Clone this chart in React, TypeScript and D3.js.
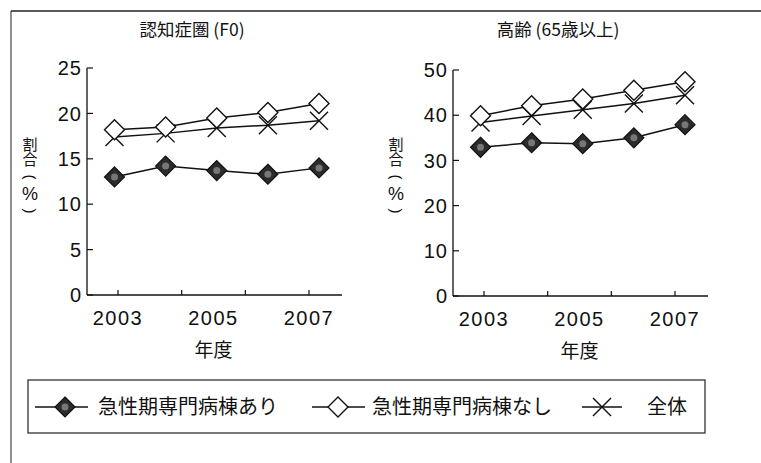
import React from "react";
import * as d3 from "d3";

const years = [2003, 2004, 2005, 2006, 2007];
const yearLabels = [2003, 2005, 2007];

const f0With = [13.0, 14.2, 13.7, 13.3, 14.0];
const f0Without = [18.2, 18.5, 19.5, 20.1, 21.1];
const f0All = [17.4, 17.8, 18.4, 18.7, 19.2];

const eldWith = [32.9, 33.9, 33.7, 35.0, 37.9];
const eldWithout = [39.9, 42.1, 43.6, 45.5, 47.4];
const eldAll = [38.4, 39.8, 41.2, 42.6, 44.4];

const f0Ticks = [0, 5, 10, 15, 20, 25];
const eldTicks = [0, 10, 20, 30, 40, 50];

const seriesNames = ["急性期専門病棟あり", "急性期専門病棟なし", "全体"];
const titles = ["認知症圏 (F0)", "高齢 (65歳以上)"];
const yLabelMain = "割合";
const yLabelUnit = ["(", "%", ")"];

const FONT = "'Liberation Sans', Arial, sans-serif";
const CJK = "'Noto Sans CJK JP', 'Noto Sans CJK SC', sans-serif";

type MarkerKind = "filled" | "open" | "x";

function Marker({ kind, x, y }: { kind: MarkerKind; x: number; y: number }) {
  const r = 10;
  if (kind === "x") {
    const s = 9;
    return (
      <g stroke="#111" strokeWidth={1.4}>
        <line x1={x - s} y1={y - s} x2={x + s} y2={y + s} />
        <line x1={x - s} y1={y + s} x2={x + s} y2={y - s} />
      </g>
    );
  }
  const pts = `${x},${y - r} ${x + r},${y} ${x},${y + r} ${x - r},${y}`;
  if (kind === "filled") {
    return (
      <g>
        <polygon points={pts} fill="#2b2b2b" stroke="#111" strokeWidth={1.2} />
        <circle cx={x} cy={y} r={3.5} fill="#777" />
      </g>
    );
  }
  return <polygon points={pts} fill="#fff" stroke="#111" strokeWidth={1.4} />;
}

function Panel({
  x0,
  yTop,
  yBottom,
  max,
  ticks,
  title,
  data,
}: {
  x0: number;
  yTop: number;
  yBottom: number;
  max: number;
  ticks: number[];
  title: string;
  data: number[][];
}) {
  const axisW = 255;
  const y = d3.scaleLinear().domain([0, max]).range([yBottom, yTop]);
  const xp = d3.scalePoint<number>().domain(years).range([x0 + 27.5, x0 + 232]);
  const xl = d3.scaleLinear().domain([2003, 2007]).range([x0 + 31, x0 + 222]);
  const xTicks = d3.range(4).map((i) => 2003 + (i * 4) / 3);
  const line = d3
    .line<number>()
    .x((_, i) => xp(years[i]) as number)
    .y((d) => y(d));
  const kinds: MarkerKind[] = ["filled", "open", "x"];
  const order = [2, 1, 0];
  const unitYs = [177, 194, 211];
  const lx = x0 - 57;
  return (
    <g>
      <text
        x={x0 + 105}
        y={36}
        textAnchor="middle"
        fontFamily={CJK}
        fontSize={17.5}
        fill="#111"
      >
        {title}
      </text>
      {/* y axis */}
      <line x1={x0} x2={x0} y1={yTop} y2={yBottom} stroke="#111" strokeWidth={1.3} />
      {ticks.map((t) => (
        <g key={t}>
          <line x1={x0} x2={x0 + 6} y1={y(t)} y2={y(t)} stroke="#111" strokeWidth={1.2} />
          <text
            x={x0 - 5}
            y={y(t)}
            dy="0.36em"
            textAnchor="end"
            fontFamily={FONT}
            fontSize={20}
            letterSpacing={1}
            fill="#111"
          >
            {t}
          </text>
        </g>
      ))}
      {/* x axis */}
      <line x1={x0} x2={x0 + axisW} y1={yBottom} y2={yBottom} stroke="#111" strokeWidth={1.3} />
      {xTicks.map((t, i) => (
        <line
          key={i}
          x1={xl(t)}
          x2={xl(t)}
          y1={yBottom}
          y2={yBottom - 5}
          stroke="#111"
          strokeWidth={1.2}
        />
      ))}
      {yearLabels.map((yr) => (
        <text
          key={yr}
          x={xl(yr)}
          y={yBottom + 23}
          dy="0.36em"
          textAnchor="middle"
          fontFamily={FONT}
          fontSize={20}
          letterSpacing={1.5}
          fill="#111"
        >
          {yr}
        </text>
      ))}
      <text
        x={xl(2005)}
        y={yBottom + 55}
        dy="0.36em"
        textAnchor="middle"
        fontFamily={CJK}
        fontSize={19}
        fill="#111"
      >
        年度
      </text>
      <text
        x={lx}
        y={152}
        textAnchor="middle"
        fontFamily={CJK}
        fontSize={15}
        fill="#111"
        style={{ writingMode: "vertical-rl" } as any}
      >
        {yLabelMain}
      </text>
      {yLabelUnit.map((c, i) => {
        const isParen = c !== "%";
        return (
          <text
            key={i}
            x={lx}
            y={unitYs[i]}
            dy="0.36em"
            textAnchor="middle"
            fontFamily={FONT}
            fontSize={isParen ? 15 : 18}
            fill="#111"
            transform={isParen ? `rotate(90, ${lx}, ${unitYs[i]})` : undefined}
          >
            {c}
          </text>
        );
      })}
      {order.map((si) => (
        <g key={si}>
          <path d={line(data[si]) || ""} fill="none" stroke="#111" strokeWidth={1.5} />
          {data[si].map((v, i) => (
            <Marker key={i} kind={kinds[si]} x={xp(years[i]) as number} y={y(v)} />
          ))}
        </g>
      ))}
    </g>
  );
}

export default function App() {
  const legendItems = [
    { kind: "filled" as MarkerKind, lx1: 35, lx2: 88, mx: 65, tx: 98 },
    { kind: "open" as MarkerKind, lx1: 312, lx2: 365, mx: 338, tx: 372 },
    { kind: "x" as MarkerKind, lx1: 582, lx2: 622, mx: 602, tx: 647 },
  ];
  const ly = 407;
  return (
    <svg
      width={761}
      height={463}
      style={{ position: "absolute", left: 0, top: 0, background: "#fff" }}
    >
      <rect x={0} y={0} width={761} height={463} fill="#fff" />
      {/* outer frame */}
      <line x1={11} x2={761} y1={11} y2={11} stroke="#222" strokeWidth={1.3} />
      <line x1={11} x2={11} y1={11} y2={463} stroke="#333" strokeWidth={1.1} />
      <Panel
        x0={87}
        yTop={68}
        yBottom={295}
        max={25}
        ticks={f0Ticks}
        title={titles[0]}
        data={[f0With, f0Without, f0All]}
      />
      <Panel
        x0={453}
        yTop={70}
        yBottom={296}
        max={50}
        ticks={eldTicks}
        title={titles[1]}
        data={[eldWith, eldWithout, eldAll]}
      />
      {/* legend */}
      <rect x={28} y={380} width={677} height={53} fill="none" stroke="#222" strokeWidth={1.2} />
      {legendItems.map((it, i) => (
        <g key={i}>
          <line x1={it.lx1} x2={it.lx2} y1={ly} y2={ly} stroke="#111" strokeWidth={1.4} />
          <Marker kind={it.kind} x={it.mx} y={ly} />
          <text
            x={it.tx}
            y={ly}
            dy="0.36em"
            fontFamily={CJK}
            fontSize={20}
            fill="#111"
          >
            {seriesNames[i]}
          </text>
        </g>
      ))}
    </svg>
  );
}
